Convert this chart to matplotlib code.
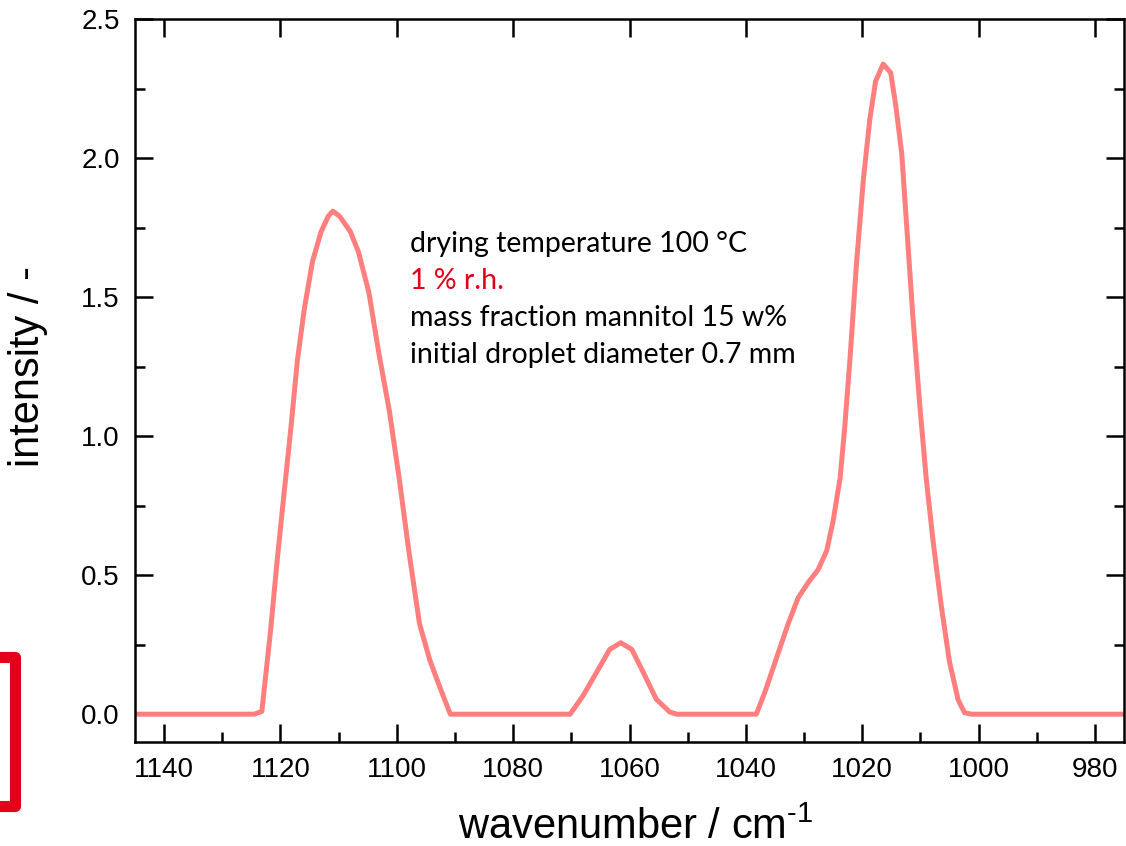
import matplotlib
matplotlib.use("Agg")
import matplotlib.pyplot as plt
from matplotlib.patches import Rectangle
from matplotlib.ticker import MultipleLocator, FormatStrFormatter

# ---- data ----
wavenumber = [1145, 1124.5, 1123.2, 1121.7, 1120.6, 1119.4, 1118.2, 1117.1, 1115.9,
              1114.5, 1113.0, 1111.8, 1111.0, 1109.8, 1108.0, 1106.6, 1104.8,
              1103.1, 1101.3, 1099.6, 1097.9, 1096.1, 1094.3, 1092.6, 1090.8,
              1070.2, 1068.0, 1065.7, 1063.4, 1061.5, 1059.6, 1057.6, 1055.4,
              1053.1, 1051.9,
              1038.2, 1036.7, 1034.7, 1032.7, 1031.0, 1029.3, 1027.6, 1026.1,
              1025.0, 1023.8, 1023.0, 1022.1, 1021.0, 1019.8, 1018.7, 1017.7,
              1016.4, 1015.1, 1014.2, 1013.2, 1012.4, 1011.3, 1010.1, 1009.0,
              1007.8, 1006.4, 1005.0, 1003.5, 1002.4, 1001.2, 975]
intensity = [0.0, 0.0, 0.01, 0.30, 0.545, 0.79, 1.03, 1.27, 1.457,
             1.627, 1.736, 1.79, 1.809, 1.79, 1.736, 1.663, 1.517,
             1.30, 1.093, 0.85, 0.582, 0.326, 0.193, 0.097, 0.0,
             0.0, 0.066, 0.149, 0.233, 0.257, 0.233, 0.149, 0.054,
             0.008, 0.0,
             0.0, 0.081, 0.204, 0.327, 0.419, 0.473, 0.519, 0.588,
             0.695, 0.849, 1.033, 1.278, 1.616, 1.923, 2.138, 2.276,
             2.338, 2.307, 2.184, 2.015, 1.770, 1.432, 1.110, 0.849,
             0.619, 0.388, 0.189, 0.051, 0.005, 0.0, 0.0]

annotation_lines = ["drying temperature 100 °C", "1 % r.h.",
                    "mass fraction mannitol 15 w%", "initial droplet diameter 0.7 mm"]
annotation_colors = ["black", "#E2001A", "black", "black"]

tickfont = "Liberation Sans"
plt.rcParams["mathtext.fontset"] = "custom"
plt.rcParams["mathtext.rm"] = tickfont
plt.rcParams["mathtext.it"] = tickfont
plt.rcParams["mathtext.default"] = "regular"
plt.rcParams["font.family"] = [tickfont, "DejaVu Sans"]

# ---- figure ----
W, H, DPI = 1126, 846, 100
fig = plt.figure(figsize=(W / DPI, H / DPI), dpi=DPI)
ax = fig.add_axes([135 / W, 1 - 742 / H, (1124 - 135) / W, (742 - 19) / H])

ax.plot(wavenumber, intensity, color="#FF7F7F", lw=3.6, solid_joinstyle="round")

ax.set_xlim(1145, 975)
ax.set_ylim(-0.1, 2.5)
ax.xaxis.set_major_locator(MultipleLocator(20))
ax.xaxis.set_minor_locator(MultipleLocator(10))
ax.yaxis.set_major_locator(MultipleLocator(0.5))
ax.yaxis.set_minor_locator(MultipleLocator(0.25))
ax.yaxis.set_major_formatter(FormatStrFormatter("%.1f"))

ax.tick_params(which="major", direction="in", length=13, width=1.8,
               labelsize=20, top=True, right=True, pad=11)
ax.tick_params(which="minor", direction="in", length=7, width=1.8,
               top=False, right=True)
for s in ax.spines.values():
    s.set_linewidth(1.8)

ax.set_xlabel("wavenumber / cm$^{\\text{-1}}$", fontsize=30)
ax.xaxis.set_label_coords((635.5 - 135) / 989, (742 - 839) / 723)
ax.xaxis.label.set_va("baseline")
ax.set_ylabel("intensity / -", fontsize=30)
ax.yaxis.set_label_coords((48 - 135) / 989, (742 - 366) / 723)

# annotation block
x0 = 410 / W
for i, (t, c) in enumerate(zip(annotation_lines, annotation_colors)):
    yb = 252 + i * 37
    fig.text(x0, 1 - yb / H, t, color=c, fontsize=20.5, family="Lato",
             va="baseline", ha="left")

# red bracket partially off-canvas (bottom-left)
rect = Rectangle((-60, 40), 75, 149, fill=False, edgecolor="#E2001A",
                 linewidth=8, joinstyle="round", transform=None)
fig.patches.append(rect)

fig.savefig("out.png", dpi=DPI)
